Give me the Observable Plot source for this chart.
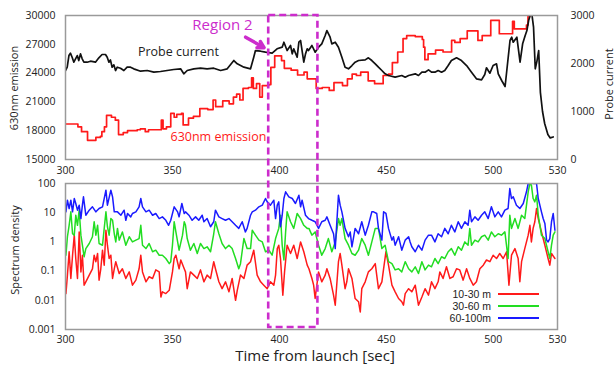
<!DOCTYPE html>
<html><head><meta charset="utf-8">
<script src="https://cdn.jsdelivr.net/npm/d3@7"></script>
<script src="https://cdn.jsdelivr.net/npm/@observablehq/plot@0.6"></script>
<style>
body{margin:0;background:#fff;font-family:"Open Sans",sans-serif;}
#wrap{position:relative;width:614px;height:367px;overflow:hidden;background:#fff;}
.pane{position:absolute;left:0;}
.lab{position:absolute;white-space:nowrap;color:#222;transform:translate(-50%,-50%);line-height:1;}
.rot{transform:translate(-50%,-50%) rotate(-90deg);}
#legend{position:absolute;left:410px;top:288px;font-size:10.5px;font-family:"Liberation Sans",sans-serif;color:#222;line-height:12px;}
#legend .row{display:flex;align-items:center;height:12px;}
#legend .t{width:81px;text-align:right;}
#legend .l{width:41px;height:2.5px;margin-left:7px;}
</style></head><body><div id="wrap"></div>
<script>
// ---------- data ----------
const xTicks = [300, 350, 400, 450, 500, 530];
const emissionTicks = [15000, 18000, 21000, 24000, 27000, 30000];
const probeTicks = [0, 1000, 2000, 3000];
const densityTicks = [0.001, 0.01, 0.1, 1, 10, 100];
const region = [395, 418];
const legendLabels = ["10-30 m", "30-60 m", "60-100m"];
const colors = ["#ff1a1a", "#22dd22", "#1a1aff"];

const emission630 = [[300,18700],[305.8,18400],[307.5,17900],[310.3,17000],[314.2,17300],[316.3,17400],[317,17900],[318.2,18400],[319.2,19600],[321.5,19400],[323.3,19100],[324.8,17600],[327,17800],[329,18000],[333.5,18100],[335,18200],[337.3,17900],[338.8,18100],[344.8,19100],[345.6,18200],[347.2,18400],[349.2,19800],[350.8,19400],[352,19700],[354.2,19800],[355,18600],[357.5,19300],[359.8,19500],[362.8,20300],[366.5,20200],[369,21200],[370.2,20500],[373.5,21100],[376.5,20800],[378.5,21500],[380,21800],[381.5,21200],[383,22400],[385.5,22500],[387,23500],[387.8,22400],[389.3,22900],[390.8,21500],[392,22700],[395,22800],[396,24600],[397.8,25800],[401,25300],[402.3,24500],[405.5,24300],[408.5,23800],[411.5,24100],[413,23400],[417.2,22400],[420,22500],[423.3,22200],[425.5,23000],[429.5,22700],[431.8,23400],[434,23900],[436,23750],[438,24100],[441.5,23200],[444.5,22900],[448.5,23750],[451,23900],[452.8,25100],[455.3,26200],[457.8,27600],[459.5,27900],[463.5,27800],[466.8,27500],[467.4,26700],[468,25400],[469.5,26000],[471,26000],[473,26400],[476.5,26200],[480.5,27400],[482,27200],[484.5,27600],[487.8,28400],[492.8,27400],[494.8,27900],[498.8,29500],[502.8,28100],[509,29400],[509.8,28600],[515.5,29000],[516.2,29900],[517,30000]];

const probeCurrent = [[300,1854],[300.8,1923],[301.6,2166],[302.3,2215],[303.1,2131],[303.9,2027],[304.7,2097],[305.5,2166],[306.2,2062],[307,2201],[307.8,2097],[308.6,2027],[310.1,2027],[311.7,2048],[314,2027],[315.6,2118],[317.1,2187],[318.7,2187],[319.5,2131],[320.3,2027],[321,2076],[321.8,1923],[322.6,1972],[323.4,1854],[324.2,1923],[325.7,1902],[327.3,1854],[328.8,1923],[330.4,1923],[331.9,1889],[335.1,1840],[338.2,1854],[341.3,1819],[344.4,1833],[347.5,1854],[350.6,1875],[353.8,1889],[355.3,1785],[356.9,1854],[360,1889],[363.1,1902],[366.2,1889],[369.3,1902],[372.5,1854],[375.6,1889],[378.7,2062],[380.3,1993],[383.4,1923],[386.5,1889],[388,2131],[388.8,2270],[391.2,2256],[393.5,2236],[396.6,2215],[398.9,2306],[401.3,2340],[402.1,2444],[403.6,2270],[405.2,2375],[406,2201],[406.7,2306],[408.3,2131],[409.1,2444],[409.9,2479],[411.4,2027],[412.2,2201],[413,2306],[413.6,2270],[415.2,2375],[416.7,2236],[418.3,2340],[419.8,2409],[421.4,2583],[422.2,2687],[423.7,2548],[424.5,2409],[426.1,2444],[427.6,2340],[429.2,2131],[430.7,1923],[432.3,1889],[433.9,1958],[435.4,2027],[437,2062],[440.1,2076],[441.6,2118],[443.2,2062],[444.8,1993],[446.3,1923],[447.9,1854],[449.4,1785],[451,1750],[454.1,1715],[457.2,1750],[458.8,1715],[460.4,1750],[463.5,1785],[465,1750],[466.6,1819],[468.1,1819],[469.7,1868],[471.1,1819],[472.7,1819],[474.2,1854],[475.8,1819],[477.3,1854],[478.9,1958],[480.4,2062],[482.8,2118],[485.1,2062],[487.5,1958],[489.8,1819],[492.1,1680],[494.5,1660],[496,1771],[496.8,1910],[498.4,1798],[499.9,1958],[501.5,1993],[502.3,1785],[503.9,1646],[505.5,1521],[506.3,1854],[507.8,2479],[508.6,2548],[509.3,2444],[511,2548],[512.5,2027],[513.7,2409],[514.9,2583],[515.7,2687],[516.5,2896],[517.2,3000],[518,3035],[518.8,2756],[519.6,1890],[520.4,2050],[521.2,2270],[522,1400],[523,1000],[524,750],[525.5,520],[526.6,450],[528,470]];

const band10_30 = [[300.2,0.017],[300.9,0.073],[301.7,0.46],[302.5,0.056],[303.3,0.35],[304.1,1.7],[304.8,0.27],[305.6,0.056],[306.4,2.2],[307.2,0.094],[307.9,0.35],[308.7,0.033],[309.5,0.043],[311.1,0.073],[312.6,0.12],[313.4,0.35],[314.2,0.21],[315,0.4],[315.7,0.049],[316.5,0.12],[317.3,0.52],[318.1,0.16],[318.9,2.5],[319.6,0.77],[320.4,0.27],[321.2,0.35],[322,0.056],[322.8,0.12],[323.5,0.21],[325.1,0.083],[326.6,0.12],[328.2,0.056],[329.8,0.094],[331.3,0.033],[332.9,0.049],[334.4,0.12],[335.2,0.35],[336,0.094],[337.6,0.043],[339.1,0.064],[340.7,0.056],[342.2,0.11],[343.8,0.094],[344.6,0.013],[345.3,0.0195],[346.9,0.017],[348.5,0.022],[350,0.094],[350.8,0.27],[351.6,0.35],[353.1,0.12],[353.9,0.24],[355.5,0.12],[356.1,0.094],[356.9,0.025],[358.4,0.094],[360,0.073],[361.6,0.056],[363.1,0.11],[364.7,0.043],[366.2,0.073],[367.8,0.056],[369.3,0.21],[370.1,0.12],[371.7,0.043],[373.2,0.025],[374.8,0.043],[376.4,0.0195],[377.9,0.056],[379.5,0.01],[380.3,0.022],[381.8,0.073],[383.4,0.056],[384.9,0.16],[386.5,0.21],[388,0.52],[389.6,0.073],[391.2,0.043],[392.7,0.033],[394.3,0.025],[395.8,0.043],[397.4,0.033],[398.2,0.073],[399,0.59],[399.7,0.77],[400.5,0.27],[401.6,0.015],[402.4,0.094],[403.6,0.77],[405.2,0.4],[406.7,0.77],[408.3,0.27],[409.9,1.0],[411.4,0.46],[413,0.16],[413.8,0.12],[415.2,0.056],[416,0.033],[416.7,0.0115],[417.5,0.033],[418.3,0.094],[419.8,0.043],[421.4,0.073],[422.2,0.12],[423.7,0.056],[425.3,0.015],[426.1,0.0068],[427.6,0.21],[428.4,0.4],[429.2,0.16],[430.7,0.025],[431.5,0.043],[432.3,0.12],[433.9,0.056],[435.4,0.0115],[437,0.0089],[437.8,0.004],[438.5,0.025],[440.1,0.043],[441.6,0.094],[443.2,0.12],[444.8,0.18],[446.3,0.025],[447.9,0.043],[448.7,0.12],[449.8,0.46],[451,0.16],[452.6,0.033],[454.1,0.0195],[455.7,0.0115],[457.2,0.0089],[458,0.0068],[458.8,0.017],[460.4,0.025],[461.9,0.0195],[463.5,0.033],[465,0.0068],[466.6,0.013],[468.1,0.025],[469.7,0.015],[471.1,0.043],[472.7,0.025],[474.2,0.043],[475,0.094],[476.5,0.056],[478.1,0.14],[479.7,0.056],[481.2,0.064],[482.8,0.12],[484.3,0.11],[485.9,0.049],[487.5,0.12],[489,0.056],[490.6,0.033],[492.1,0.043],[493.7,0.12],[495.3,0.16],[496.8,0.24],[498.4,0.21],[499.9,0.35],[501.5,0.27],[503,0.4],[504.6,0.27],[506.2,0.46],[507.3,0.033],[508.5,0.35],[510.1,0.59],[511.6,0.27],[512.4,0.043],[513.2,0.21],[514.7,0.59],[516.3,1.7],[517.1,3.7],[517.8,1.0],[518.6,2.9],[519.4,4.9],[520.2,13.9],[521,6.3],[522.5,2.2],[524.1,0.77],[525.6,0.27],[526.4,0.16],[527.2,0.4],[528.8,0.27]];

const band30_60 = [[300.2,0.35],[300.9,1.5],[301.7,3.7],[302.5,10.7],[303.3,1.9],[304.1,1.7],[304.8,8.2],[305.6,3.7],[306.4,12.2],[307.2,1.7],[307.9,0.77],[308.7,0.31],[309.5,0.59],[311.1,0.88],[312.6,1.5],[313.4,4.9],[314.2,1.7],[315,3.7],[315.7,0.88],[317.3,0.77],[318.1,2.9],[318.9,10.7],[319.6,3.3],[320.4,1.7],[321.2,6.3],[322,5.5],[322.8,1.9],[323.5,1.0],[324.3,2.9],[325.1,1.15],[326.6,2.2],[328.2,0.77],[329.8,1.5],[331.3,1.0],[332.9,1.15],[334.4,1.3],[335.2,3.7],[336,0.77],[337.6,0.59],[339.1,0.88],[340.7,0.46],[342.2,0.52],[343.8,0.35],[345.3,0.35],[346.9,0.27],[348.5,0.18],[349.2,0.21],[350,0.77],[350.8,4.9],[351.6,2.2],[353.1,0.52],[354.7,1.7],[355.5,4.9],[356.1,3.7],[356.9,1.3],[358.4,0.52],[360,0.88],[361.6,0.4],[363.1,0.88],[364.7,0.59],[366.2,0.68],[367.8,0.46],[369.3,1.9],[370.1,4.9],[371.7,1.9],[373.2,0.88],[374.8,0.59],[376.4,0.77],[377.9,0.59],[379.5,0.27],[381,0.12],[381.8,0.18],[383.4,1.3],[384.9,0.59],[386.5,0.59],[387.3,2.5],[388.8,1.7],[390.4,1.15],[392,1.0],[393.5,0.46],[395.1,0.52],[396.6,0.35],[398.2,1.3],[399.7,2.9],[400.5,8.2],[401.3,0.77],[402.1,0.24],[402.9,2.2],[403.6,10.7],[405.2,4.9],[406.7,2.9],[408.3,9.4],[409.9,6.3],[411.4,3.7],[413,2.9],[413.8,2.9],[415.2,1.7],[416.7,2.2],[418.3,0.77],[419.8,0.35],[421.4,0.59],[422.9,1.3],[424.5,0.46],[426.1,1.0],[427.6,6.3],[428.4,3.7],[429.2,6.3],[430.7,1.3],[432.3,0.77],[433.9,0.4],[435.4,0.35],[437,0.52],[438.5,1.3],[440.1,0.77],[441.6,0.35],[443.2,1.0],[444.8,2.9],[446.3,2.9],[447.9,0.59],[449.4,0.77],[451,0.21],[452.6,0.18],[454.1,0.11],[455.7,0.12],[457.2,0.094],[458.8,0.21],[460.4,0.12],[461.9,0.094],[463.5,0.14],[465,0.083],[466.6,0.21],[468.1,0.11],[469.7,0.16],[471.1,0.14],[472.7,0.27],[474.2,0.18],[475.8,0.31],[477.3,0.27],[478.9,0.46],[480.4,0.59],[482,0.35],[483.6,0.68],[485.1,0.52],[486.7,1.0],[488.2,0.77],[489,2.9],[489.8,0.77],[491.4,1.15],[492.9,1.0],[494.5,1.5],[496,1.7],[497.6,1.15],[499.1,2.2],[500.7,1.5],[502.3,1.9],[503.8,1.7],[505.4,2.2],[506.9,0.27],[507.7,8.2],[508.5,2.9],[510.1,6.3],[511.6,2.9],[513.2,8.2],[514.7,6.3],[516.3,51.9],[517.1,100],[517.8,88],[518.6,30.6],[519.4,23.5],[520.2,39.8],[521,8.2],[522.5,1.7],[524.1,1.3],[525.6,0.46],[526.4,0.27],[527.2,0.77],[528,1.7],[528.8,2.2]];

const band60_100 = [[300.2,10.7],[300.9,26.8],[301.7,13.9],[302.5,26.8],[303.3,10.7],[304.1,30.6],[304.8,20.7],[305.6,12.2],[306.4,18.1],[307.2,6.3],[307.9,18.1],[308.4,34.9],[309.5,8.2],[311.1,12.2],[312.6,15.9],[314.2,10.7],[315.7,13.9],[317.3,15.9],[318.9,59],[319.6,18.1],[321.2,59],[322,34.9],[322.8,10.7],[324.3,10.7],[325.9,8.2],[327.4,12.2],[328.2,5.5],[329,9.4],[330.5,7.2],[331.3,9.4],[332.9,10.7],[334.4,15.9],[335.2,30.6],[336,15.9],[337.6,10.7],[339.1,12.2],[340.7,8.2],[342.2,9.4],[343.8,6.3],[345.3,7.2],[346.9,5.5],[348.2,3.7],[349.2,5.5],[350.8,15.9],[352.4,10.7],[353.1,7.2],[354.4,20.7],[355.5,9.4],[356.1,10.7],[357.7,8.2],[359.2,5.5],[360.8,7.2],[362.3,5.5],[363.9,8.2],[364.7,4.9],[366.2,6.3],[367.8,3.3],[369.3,4.9],[370.1,12.2],[371.7,7.2],[373.2,6.3],[374.8,5.5],[376.4,6.3],[377.9,4.9],[379.5,3.7],[381,2.9],[382.6,4.9],[384.1,2.2],[384.9,2.9],[386.5,8.2],[387.3,10.7],[388.8,12.2],[390.4,15.9],[392,18.1],[393.5,30.6],[394.3,23.5],[395.8,18.1],[397.4,26.8],[398.2,6.3],[399,18.1],[399.7,23.5],[400.5,3.3],[401.3,8.2],[402.1,30.6],[402.9,51.9],[404.4,34.9],[406,30.6],[407.5,20.7],[409.1,39.8],[409.9,15.9],[410.6,26.8],[412.2,8.2],[413.6,6.3],[415.2,5.5],[416.7,4.9],[418.3,2.9],[419.8,4.9],[421.4,5.5],[422.2,7.2],[423.7,3.7],[425.3,1.9],[426.1,0.59],[427.6,39.8],[428.4,18.1],[429.2,10.7],[430.7,2.9],[432.3,1.5],[433.1,2.2],[433.9,0.68],[435.4,2.9],[437,1.9],[438.5,4.9],[440.1,1.7],[441.6,3.7],[443.2,10.7],[444,10.7],[445.5,9.4],[446.3,2.9],[447.9,1.15],[448.7,10.7],[449.8,9.4],[451,2.9],[452.6,1.15],[453.3,1.5],[454.1,0.77],[455.7,1.5],[457.2,0.52],[458.8,1.15],[460.4,1.5],[461.1,1.0],[461.9,0.68],[463.5,0.46],[465,0.77],[466.6,0.52],[468.1,1.15],[469.7,1.7],[471.1,1.7],[472.7,1.0],[474.2,1.9],[475.8,1.5],[477.3,2.9],[478.9,1.9],[480.4,3.7],[482,2.2],[483.6,4.9],[485.1,2.9],[486.7,4.9],[488.2,3.7],[489,12.2],[489.8,4.9],[491.4,7.2],[492.9,5.5],[494.5,8.2],[496,10.7],[497.6,6.3],[499.1,15.9],[500.7,7.2],[502.3,10.7],[503.8,7.2],[505.4,12.2],[506.9,13.9],[507.7,67],[508.5,30.6],[509.3,34.9],[510.8,18.1],[512.4,13.9],[514,20.7],[515.5,51.9],[516.3,100],[517.1,148],[518.6,100],[520.2,100],[521,30.6],[522.5,10.7],[523.3,6.3],[524.1,4.3],[524.9,1.15],[525.6,1.0],[526.4,1.3],[527.2,4.9],[528,9.4],[528.8,2.5]];

// ---------- layout ----------
const W = 614;
const MAGENTA = "#cc2ccc";
const pcToY = v => 15000 + v * 5; // probe current mapped onto the 630nm axis (0..3000 -> 15000..30000)
const baseStyle = {background: "transparent", fontFamily: "Open Sans", fontSize: "10.5px", color: "#222", overflow: "visible"};

const topPlot = Plot.plot({
  width: W, height: 180,
  marginLeft: 65, marginRight: 57, marginTop: 15, marginBottom: 21,
  style: baseStyle,
  x: {domain: [300, 530], label: null},
  y: {domain: [15000, 30000], label: null},
  marks: [
    Plot.axisY(emissionTicks, {anchor: "left", tickSize: 0, tickPadding: 10, tickFormat: d => String(d), label: null}),
    Plot.axisY(probeTicks.map(pcToY), {anchor: "right", tickSize: 0, tickPadding: 13, tickFormat: d => String((d - 15000) / 5), label: null}),
    Plot.axisX(xTicks, {anchor: "bottom", tickSize: 0, tickPadding: 7, label: null}),
    Plot.line(emission630, {x: d => d[0], y: d => d[1], curve: "step-after", stroke: colors[0], strokeWidth: 1.7, clip: true}),
    Plot.line(probeCurrent, {x: d => d[0], y: d => pcToY(d[1]), stroke: "#111", strokeWidth: 1.7, clip: true}),
    Plot.text(["Probe current"], {x: 352.8, y: 26150, text: d => d, fill: "#222", fontSize: 12.5}),
    Plot.text(["630nm emission"], {x: 371.5, y: 17300, text: d => d, fill: colors[0], fontSize: 12.5}),
    Plot.text(["Region 2"], {x: 373.4, y: 28960, text: d => d, fill: MAGENTA, fontSize: 15}),
    Plot.arrow([0], {x1: 384.2, y1: 27740, x2: 392.8, y2: 26650, stroke: MAGENTA, strokeWidth: 3.5, headLength: 8}),
    Plot.frame({stroke: "#9a9a9a", strokeWidth: 1.5})
  ]
});

const bandSeries = [band10_30, band30_60, band60_100];
const bottomPlot = Plot.plot({
  width: W, height: 192,
  marginLeft: 65, marginRight: 57, marginTop: 8, marginBottom: 38,
  style: baseStyle,
  x: {domain: [300, 530], label: null},
  y: {type: "log", domain: [0.001, 100], label: null},
  marks: [
    Plot.axisY(densityTicks, {anchor: "left", tickSize: 0, tickPadding: 10, tickFormat: d => String(d), label: null}),
    Plot.axisX(xTicks, {anchor: "bottom", tickSize: 0, tickPadding: 6, label: null}),
    ...bandSeries.map((s, i) => Plot.line(s, {x: d => d[0], y: d => d[1], stroke: colors[i], strokeWidth: 1.5, clip: true})),
    Plot.frame({stroke: "#9a9a9a", strokeWidth: 1.5})
  ]
});

const BOTTOM_TOP = 175;
const wrap = document.getElementById("wrap");
const p1 = document.createElement("div"); p1.className = "pane"; p1.style.top = "0px"; p1.appendChild(topPlot);
const p2 = document.createElement("div"); p2.className = "pane"; p2.style.top = BOTTOM_TOP + "px"; p2.appendChild(bottomPlot);
wrap.appendChild(p1); wrap.appendChild(p2);

// Region 2 dashed box spanning both panels, positioned with the plots' own scales
const xs = topPlot.scale("x"), ysTop = topPlot.scale("y"), ysBot = bottomPlot.scale("y");
const rx1 = xs.apply(region[0]), rx2 = xs.apply(region[1]);
const ry1 = ysTop.apply(30000), ry2 = BOTTOM_TOP + ysBot.apply(0.001) - 2;
const ov = d3.create("svg").attr("width", W).attr("height", 367)
  .style("position", "absolute").style("left", "0px").style("top", "0px").style("pointer-events", "none");
ov.append("rect").attr("x", rx1).attr("y", ry1).attr("width", rx2 - rx1).attr("height", ry2 - ry1)
  .attr("fill", "none").attr("stroke", MAGENTA).attr("stroke-width", 2.6).attr("stroke-dasharray", "7,4");
wrap.appendChild(ov.node());

// axis titles
function lab(text, x, y, size, rot) {
  const d = document.createElement("div");
  d.className = "lab" + (rot ? " rot" : "");
  d.textContent = text; d.style.left = x + "px"; d.style.top = y + "px"; d.style.fontSize = size + "px";
  wrap.appendChild(d);
}
lab("630nm emission", 13, 88, 11, true);
lab("Probe current", 608, 84, 11, true);
lab("Spectrum density", 14, 250, 11, true);
lab("Time from launch [sec]", 315, 355, 15, false);

// legend
const lg = document.createElement("div"); lg.id = "legend";
legendLabels.forEach((t, i) => {
  const r = document.createElement("div"); r.className = "row";
  r.innerHTML = `<span class="t">${t}</span><span class="l" style="background:${colors[i]}"></span>`;
  lg.appendChild(r);
});
wrap.appendChild(lg);
</script></body></html>
